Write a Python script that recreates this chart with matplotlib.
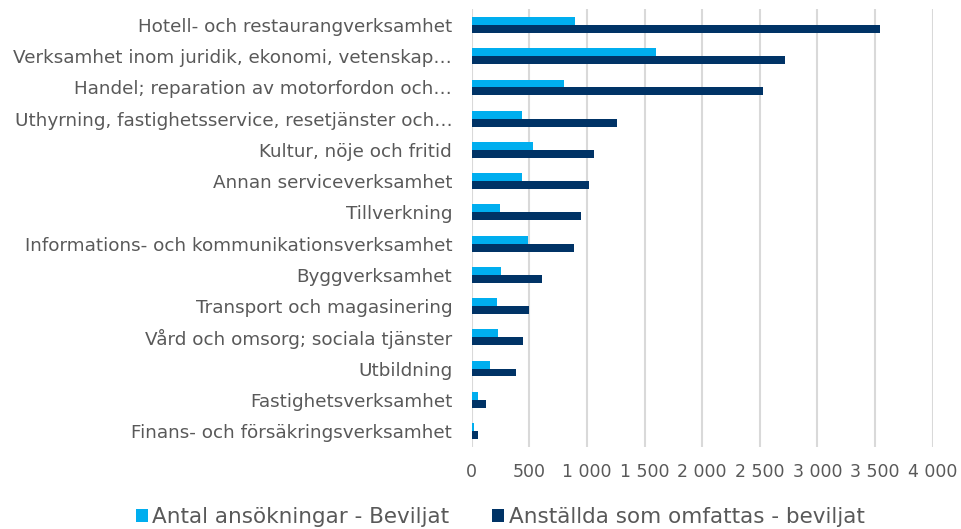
import matplotlib
matplotlib.use("Agg")
import matplotlib.pyplot as plt
import matplotlib.ticker as mticker
import numpy as np

# data
categories = [
    "Hotell- och restaurangverksamhet",
    "Verksamhet inom juridik, ekonomi, vetenskap…",
    "Handel; reparation av motorfordon och…",
    "Uthyrning, fastighetsservice, resetjänster och…",
    "Kultur, nöje och fritid",
    "Annan serviceverksamhet",
    "Tillverkning",
    "Informations- och kommunikationsverksamhet",
    "Byggverksamhet",
    "Transport och magasinering",
    "Vård och omsorg; sociala tjänster",
    "Utbildning",
    "Fastighetsverksamhet",
    "Finans- och försäkringsverksamhet",
]
ansokningar = [900, 1600, 800, 440, 532, 440, 246, 486, 258, 220, 231, 162, 52, 20]
anstallda = [3545, 2722, 2532, 1261, 1062, 1016, 946, 885, 610, 495, 443, 382, 124, 52]
series_names = ["Antal ansökningar - Beviljat", "Anställda som omfattas - beviljat"]
xticks = [0, 500, 1000, 1500, 2000, 2500, 3000, 3500, 4000]

light = "#00AEEF"
dark = "#003366"
textcol = "#595959"

fig = plt.figure(figsize=(9.62, 5.29), dpi=100)
ax = fig.add_axes([0.4903, 0.1558, 0.4792, 0.8264])

y = np.arange(len(categories))
h = 0.255
ax.barh(y - h / 2, ansokningar, height=h, color=light, label=series_names[0], zorder=3)
ax.barh(y + h / 2, anstallda, height=h, color=dark, label=series_names[1], zorder=3)

ax.set_ylim(len(categories) - 0.5, -0.5)
ax.set_xlim(0, 4000)
ax.set_yticks(y)
ax.set_yticklabels(categories, fontsize=13.2, color=textcol)
ax.set_xticks(xticks)
ax.xaxis.set_major_formatter(mticker.FuncFormatter(lambda v, p: f"{int(v):,}".replace(",", " ")))
ax.tick_params(axis="x", length=0, pad=12, labelsize=12.5, labelcolor=textcol)
ax.tick_params(axis="y", length=0, pad=14)

ax.grid(axis="x", color="#D9D9D9", linewidth=1.5, zorder=0)
for s in ax.spines.values():
    s.set_visible(False)

fig.legend(loc="center", bbox_to_anchor=(0.52, 0.022), ncol=2, frameon=False,
           fontsize=15.5, labelcolor=textcol, handlelength=0.55, handleheight=0.55,
           handletextpad=0.2, columnspacing=2.0)

fig.savefig("out.png", dpi=100)
